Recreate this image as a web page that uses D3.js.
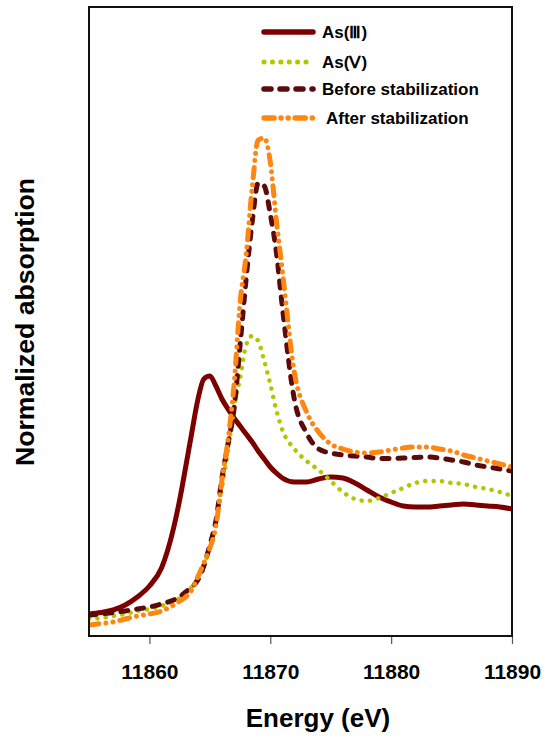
<!DOCTYPE html>
<html>
<head>
<meta charset="utf-8">
<script src="https://cdn.jsdelivr.net/npm/d3@7"></script>
<style>
  body { margin: 0; background: #fff; }
  text { font-family: "Liberation Sans", Arial, sans-serif; font-weight: bold; fill: #000; }
</style>
</head>
<body>
<svg id="chart" width="549" height="736"></svg>
<script>
// energy grid (eV), denser around the edge
var energy = [11855, 11856, 11857, 11858, 11859, 11860, 11861, 11862,
  11862.5, 11863, 11863.5, 11864, 11864.5, 11865, 11865.5, 11866, 11866.5, 11867,
  11867.5, 11868, 11868.5, 11869, 11869.5, 11870, 11870.5, 11871,
  11872, 11873, 11874, 11875, 11876, 11877, 11878, 11879, 11880, 11881,
  11882, 11883, 11884, 11885, 11886, 11887, 11888, 11889, 11890];

var as3 = [0.02, 0.035, 0.06, 0.11, 0.19, 0.30, 0.48, 0.88,
  1.16, 1.49, 1.83, 2.16, 2.37, 2.40, 2.30, 2.17, 2.07, 1.98,
  1.90, 1.82, 1.74, 1.65, 1.57, 1.49, 1.43, 1.38,
  1.34, 1.34, 1.37, 1.39, 1.38, 1.33, 1.26, 1.19, 1.14, 1.10,
  1.09, 1.09, 1.10, 1.11, 1.12, 1.11, 1.10, 1.09, 1.07];

var as5 = [-0.03, -0.02, 0.00, 0.02, 0.05, 0.07, 0.10, 0.15,
  0.18, 0.23, 0.29, 0.38, 0.51, 0.68, 0.93, 1.28, 1.65, 2.08,
  2.38, 2.71, 2.80, 2.75, 2.55, 2.32, 2.06, 1.86,
  1.67, 1.55, 1.46, 1.35, 1.24, 1.17, 1.15, 1.18, 1.23, 1.28,
  1.33, 1.35, 1.35, 1.33, 1.32, 1.29, 1.27, 1.24, 1.20];

var before = [0.01, 0.02, 0.035, 0.05, 0.07, 0.09, 0.12, 0.16,
  0.19, 0.24, 0.29, 0.36, 0.50, 0.71, 0.95, 1.38, 1.72, 2.07,
  2.71, 3.37, 3.94, 4.33, 4.30, 4.02, 3.64, 3.09,
  2.16, 1.83, 1.67, 1.63, 1.61, 1.60, 1.59, 1.575, 1.575, 1.58,
  1.585, 1.59, 1.58, 1.56, 1.54, 1.51, 1.49, 1.47, 1.45];

var after = [-0.09, -0.075, -0.06, -0.03, 0.00, 0.02, 0.05, 0.11,
  0.15, 0.19, 0.26, 0.39, 0.53, 0.68, 0.90, 1.36, 1.76, 2.31,
  3.13, 3.61, 4.28, 4.76, 4.78, 4.54, 3.96, 3.45,
  2.43, 2.04, 1.84, 1.72, 1.67, 1.64, 1.63, 1.64, 1.66, 1.68,
  1.69, 1.69, 1.67, 1.65, 1.61, 1.58, 1.55, 1.52, 1.49];

var xTicks = [11860, 11870, 11880, 11890];

var seriesNames = ["As(\u2162)", "As(\u2164)", "Before stabilization", "After stabilization"];

var series = [
  {name: seriesNames[0], values: as3, colour: "#7d0000", dash: null, width: 5, cap: "round"},
  {name: seriesNames[1], values: as5, colour: "#b3c600", dash: "0.1,8.3", width: 4.5, cap: "round"},
  {name: seriesNames[2], values: before, colour: "#5c0b0b", dash: "7,9", width: 5, cap: "round"},
  {name: seriesNames[3], values: after, colour: "#ff8610", dash: "10,7,0.1,7,0.1,7", width: 5, cap: "round"}
];

var margin = {top: 7, right: 37, bottom: 100, left: 89},
  width = 549 - margin.left - margin.right,
  height = 736 - margin.top - margin.bottom;

var svg = d3.select("#chart");
var g = svg.append("g")
  .attr("transform", "translate(" + margin.left + "," + margin.top + ")");

var x = d3.scaleLinear().domain([11855, 11890]).range([0, width]);
var y = d3.scaleLinear().domain([-0.2, 6.09]).range([height, 0]);

// x axis, ticks pointing down
var xAxis = d3.axisBottom(x)
  .tickValues(xTicks)
  .tickSize(8)
  .tickPadding(20)
  .tickFormat(d3.format("d"));

var ax = g.append("g")
  .attr("transform", "translate(0," + height + ")")
  .call(xAxis);
ax.select(".domain").remove();
ax.selectAll(".tick line").attr("stroke", "#555").attr("stroke-width", 1.2);
ax.selectAll(".tick text")
  .style("font-size", "21px")
  .style("font-family", "'Liberation Sans', Arial, sans-serif")
  .style("font-weight", "bold")
  .attr("fill", "#000");

g.append("clipPath").attr("id", "plotclip")
  .append("rect").attr("width", width).attr("height", height);

var line = d3.line()
  .x(function(d, i) { return x(energy[i]); })
  .y(function(d) { return y(d); })
  .curve(d3.curveMonotoneX);

for (const s of series) {
  g.append("path")
    .attr("clip-path", "url(#plotclip)")
    .attr("d", line(s.values))
    .attr("fill", "none")
    .attr("stroke", s.colour)
    .attr("stroke-width", s.width)
    .attr("stroke-linecap", s.cap)
    .attr("stroke-linejoin", "round")
    .attr("stroke-dasharray", s.dash);
}

// frame
g.append("rect")
  .attr("width", width)
  .attr("height", height)
  .attr("fill", "none")
  .attr("stroke", "#111")
  .attr("stroke-width", 2);

// legend
var legendRows = [32, 62, 89, 118];
var legendTextX = [322, 322, 322, 326];
var legend = svg.append("g");
series.forEach(function(s, i) {
  legend.append("line")
    .attr("x1", 264).attr("x2", 313)
    .attr("y1", legendRows[i]).attr("y2", legendRows[i])
    .attr("stroke", s.colour)
    .attr("stroke-width", s.width + 0.5)
    .attr("stroke-linecap", s.cap)
    .attr("stroke-dasharray", s.dash);
  legend.append("text")
    .attr("x", legendTextX[i])
    .attr("y", legendRows[i] + 6)
    .style("font-size", "17px")
    .text(s.name);
});

// axis titles
svg.append("text")
  .attr("x", 318)
  .attr("y", 727)
  .attr("text-anchor", "middle")
  .style("font-size", "26px")
  .text("Energy (eV)");

svg.append("text")
  .attr("transform", "translate(34,322) rotate(-90)")
  .attr("text-anchor", "middle")
  .attr("textLength", 288)
  .attr("lengthAdjust", "spacingAndGlyphs")
  .style("font-size", "25px")
  .text("Normalized absorption");
</script>
</body>
</html>
